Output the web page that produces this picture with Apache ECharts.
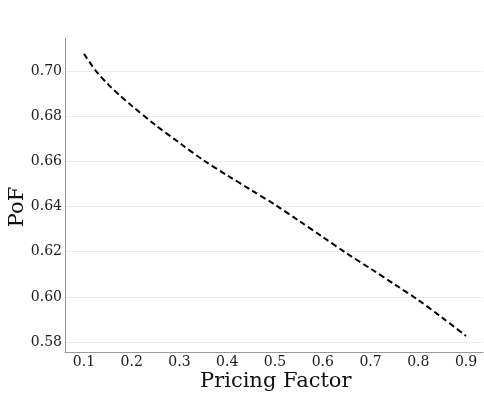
<!DOCTYPE html>
<html>
<head>
<meta charset="utf-8">
<script src="https://cdn.jsdelivr.net/npm/echarts@6/dist/echarts.min.js"></script>
<style>html,body{margin:0;padding:0;background:#fff}#c{width:484px;height:396px}</style>
</head>
<body>
<div id="c"></div>
<script>
var pricingFactor = [0.10,0.125,0.15,0.175,0.20,0.25,0.30,0.35,0.40,0.45,0.50,0.55,0.60,0.65,0.70,0.75,0.80,0.85,0.90];
var pof = [0.7076,0.7000,0.6942,0.6892,0.6846,0.6760,0.6682,0.6605,0.6538,0.6473,0.6408,0.6337,0.6265,0.6193,0.6125,0.6056,0.5986,0.5908,0.5827];
var xTicks = [0.1,0.2,0.3,0.4,0.5,0.6,0.7,0.8,0.9];
var yTicks = [0.58,0.60,0.62,0.64,0.66,0.68,0.70];
var xTitle = 'Pricing Factor';
var yTitle = 'PoF';

var font = 'DejaVu Serif';
var chart = echarts.init(document.getElementById('c'), null, {renderer:'canvas'});
chart.setOption({
  animation:false,
  backgroundColor:'#fff',
  grid:{left:65, right:1, top:38, bottom:44, containLabel:false, outerBoundsMode:'none'},
  graphic:[
    {type:'text', left:200, top:371, style:{text:xTitle, font:'21px "DejaVu Serif"', fill:'#111'}},
    {type:'text', x:18, y:207, rotation:Math.PI/2,
     style:{text:yTitle, font:'21px "DejaVu Serif"', fill:'#111', align:'center', verticalAlign:'middle'}}
  ],
  xAxis:{
    type:'value', min:0.0603, max:0.9355,
    axisLine:{show:true, lineStyle:{color:'#999', width:1}},
    axisTick:{show:false, customValues:xTicks},
    axisLabel:{customValues:xTicks, fontFamily:font, fontSize:14, color:'#1a1a1a', margin:3,
      formatter:function(v){return v.toFixed(1);}},
    splitLine:{show:false}
  },
  yAxis:{
    type:'value', min:0.5756, max:0.7146,
    axisLine:{show:true, lineStyle:{color:'#999', width:1}},
    axisTick:{show:false, customValues:yTicks},
    axisLabel:{customValues:yTicks, fontFamily:font, fontSize:14, color:'#1a1a1a', margin:3,
      formatter:function(v){return v.toFixed(2);}},
    splitLine:{show:true, lineStyle:{color:'#ebebeb', width:1}}
  },
  series:[{
    type:'line',
    data:pricingFactor.map(function(x,i){return [x,pof[i]];}),
    showSymbol:false, smooth:0.3,
    lineStyle:{color:'#000', width:2, type:[6,3.5]}
  }]
});
</script>
</body>
</html>
